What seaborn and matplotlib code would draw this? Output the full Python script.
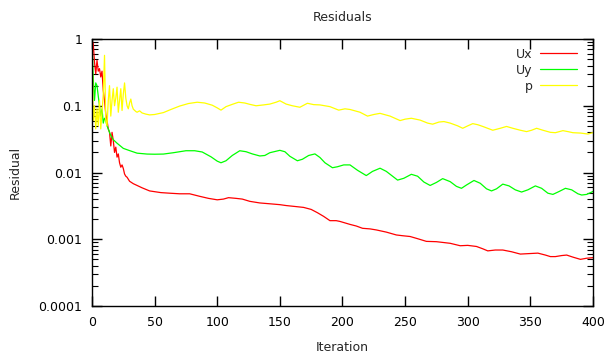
import numpy as np
import pandas as pd
import matplotlib
matplotlib.use("Agg")
import matplotlib.pyplot as plt
import matplotlib.ticker as mticker
import seaborn as sns

# residual history
ux_it = [0, 1, 2, 3, 4, 5, 6, 7, 8, 9, 10, 11, 12, 13, 14, 15, 16, 17, 18, 19, 20, 21, 22, 23, 24, 25, 26, 27, 28,
         30, 33, 36, 40, 46, 55, 62, 70, 78, 86, 93, 100, 105, 109, 115, 120, 126, 134, 142, 150, 155, 162, 169, 175,
         180, 185, 190, 195, 198, 206, 211, 216, 222, 227, 235, 243, 248, 254, 260, 267, 275, 286, 294, 300, 307, 312,
         316, 322, 328, 335, 342, 349, 356, 362, 366, 370, 375, 379, 384, 390, 395, 400]
ux_res = [0.95, 0.85, 0.45, 0.3, 0.48, 0.33, 0.36, 0.27, 0.33, 0.17, 0.12, 0.075, 0.06, 0.045, 0.04, 0.025, 0.04,
          0.03, 0.02, 0.024, 0.017, 0.019, 0.014, 0.012, 0.013, 0.0115, 0.0095, 0.0088, 0.0085,
          0.0074, 0.0068, 0.0064, 0.0059, 0.0053, 0.0050, 0.0049, 0.0048, 0.0048, 0.0044, 0.0041, 0.0039, 0.0040,
          0.0042, 0.0041, 0.0040, 0.0037, 0.0035, 0.0034, 0.0033, 0.0032, 0.0031, 0.0030, 0.0028,
          0.0025, 0.0022, 0.0019, 0.0019, 0.00185, 0.00167, 0.00158, 0.00146, 0.00143, 0.00138, 0.00128, 0.00116,
          0.00113, 0.0011, 0.00102, 0.00093, 0.00092, 0.00087, 0.0008, 0.00081, 0.00078, 0.00072,
          0.00067, 0.00069, 0.00069, 0.00065, 0.0006, 0.00061, 0.00062, 0.00058, 0.00055, 0.00055, 0.00057, 0.00058,
          0.00054, 0.0005, 0.00052, 0.00053]

uy_it = [0, 1, 2, 3, 4, 5, 6, 7, 8, 9, 10, 11, 12, 13, 14, 15, 17, 20, 25, 30, 36, 44, 50, 57, 65, 75, 82, 88, 95,
         100, 103, 107, 112, 118, 123, 128, 134, 138, 142, 150, 154, 158, 164, 168, 173, 178, 182, 186, 192, 196,
         201, 206, 212, 219, 224, 230, 235, 244, 249, 255, 260, 265, 270, 275, 280, 286, 291, 295, 299, 305, 310,
         315, 319, 323, 328, 333, 338, 343, 348, 354, 359, 364, 368, 373, 378, 383, 388, 391, 395, 400]
uy_res = [0.95, 0.25, 0.12, 0.22, 0.2, 0.14, 0.1, 0.07, 0.09, 0.055, 0.065, 0.06, 0.05, 0.045, 0.04, 0.036, 0.031,
          0.0275, 0.023, 0.0213, 0.0195, 0.0189, 0.0188, 0.0189, 0.0198, 0.0212, 0.0212, 0.0203, 0.0172,
          0.0148, 0.014, 0.015, 0.018, 0.0212, 0.0205, 0.019, 0.0177, 0.018, 0.0198, 0.0215, 0.0205, 0.0175, 0.015,
          0.0158, 0.018, 0.019, 0.0168, 0.014, 0.0118, 0.0122,
          0.013, 0.013, 0.0108, 0.009, 0.0104, 0.0116, 0.0104, 0.0077, 0.0082, 0.0094, 0.0088, 0.0072, 0.0064,
          0.0071, 0.0081, 0.0073, 0.0062, 0.0058, 0.0065, 0.0076, 0.0069,
          0.0057, 0.0053, 0.0057, 0.0067, 0.0063, 0.0055, 0.0051, 0.0055, 0.0063, 0.0058, 0.0049, 0.0047, 0.0052,
          0.0058, 0.0055, 0.0048, 0.0046, 0.0047, 0.0052]

p_it = [0, 1, 2, 3, 4, 5, 6, 7, 8, 9, 10, 11, 12, 13, 14, 15, 16, 17, 18, 19, 20, 21, 22, 23, 24, 25, 26, 27, 28,
        29, 30, 31, 32, 33, 35, 36, 38, 40, 43, 46, 50, 57, 63, 70, 77, 84, 90, 96, 100, 103, 107, 112, 117, 122,
        126, 131, 137, 142, 147, 150, 155, 160, 166, 172, 177, 182, 190, 197, 202, 206, 214, 220, 225, 230, 238,
        246, 250, 255, 262, 268, 272, 277, 281, 286, 292, 296, 300, 304, 308, 312, 320, 326, 331, 336, 342, 347,
        351, 355, 360, 366, 370, 376, 380, 384, 390, 396, 400]
p_res = [0.95, 0.06, 0.1, 0.045, 0.09, 0.05, 0.12, 0.045, 0.08, 0.15, 0.57, 0.06, 0.05, 0.12, 0.2, 0.07, 0.12, 0.18,
         0.1, 0.13, 0.19, 0.08, 0.12, 0.18, 0.085, 0.15, 0.22, 0.13, 0.1,
         0.09, 0.11, 0.126, 0.1, 0.089, 0.082, 0.08, 0.084, 0.078, 0.075, 0.073, 0.074, 0.079, 0.088, 0.099, 0.108,
         0.113, 0.11, 0.102, 0.093, 0.086, 0.097, 0.105, 0.113, 0.11,
         0.105, 0.1, 0.103, 0.106, 0.113, 0.119, 0.106, 0.1, 0.095, 0.109, 0.104, 0.103, 0.097, 0.086, 0.09, 0.088,
         0.08, 0.07, 0.074, 0.077, 0.07,
         0.06, 0.063, 0.065, 0.061, 0.055, 0.053, 0.057, 0.058, 0.055, 0.05, 0.046, 0.05, 0.054, 0.052, 0.049,
         0.043, 0.046, 0.049, 0.046, 0.043, 0.041,
         0.043, 0.046, 0.043, 0.04, 0.0395, 0.0424, 0.041, 0.0395, 0.039, 0.0377, 0.0397]

fields = ["Ux", "Uy", "p"]
colors = {"Ux": "#ff0000", "Uy": "#00ff00", "p": "#ffff00"}

df = pd.concat([
    pd.DataFrame({"Iteration": ux_it, "Residual": ux_res, "field": "Ux"}),
    pd.DataFrame({"Iteration": uy_it, "Residual": uy_res, "field": "Uy"}),
    pd.DataFrame({"Iteration": p_it, "Residual": p_res, "field": "p"}),
], ignore_index=True)

sns.set_style("ticks")
plt.rcParams.update({
    "font.family": ["DejaVu Sans"],
    "font.size": 9,
    "xtick.direction": "in",
    "ytick.direction": "in",
    "xtick.top": True,
    "ytick.right": True,
    "axes.edgecolor": "black",
    "axes.linewidth": 1.0,
})

fig = plt.figure(figsize=(6.06, 3.56), dpi=100)
ax = fig.add_axes([0.1518, 0.1404, 0.8267, 0.75])

sns.lineplot(data=df, x="Iteration", y="Residual", hue="field", hue_order=fields, palette=colors,
             estimator=None, sort=True, lw=0.9, ax=ax)

ax.set_yscale("log")
ax.set_xlim(0, 400)
ax.set_ylim(1e-4, 1)
ax.xaxis.set_major_locator(mticker.MultipleLocator(50))
ax.yaxis.set_major_locator(mticker.LogLocator(base=10, numticks=10))
ax.yaxis.set_minor_locator(mticker.LogLocator(base=10, subs=np.arange(2, 10), numticks=20))
ax.yaxis.set_major_formatter(mticker.FuncFormatter(lambda v, pos: "%g" % v))
ax.yaxis.set_minor_formatter(mticker.NullFormatter())
ax.tick_params(which="major", length=7, width=1, labelsize=9, color="black", labelcolor="black", pad=7)
ax.tick_params(which="minor", length=4, width=0.8, color="black")
for s in ax.spines.values():
    s.set_visible(True)

ax.set_title("Residuals", fontsize=9, pad=13)
ax.set_xlabel("Iteration", fontsize=9, labelpad=9)
ax.set_ylabel("Residual", fontsize=9, labelpad=12)

# gnuplot style key: label right-aligned, sample line after it
handles, labels = ax.get_legend_handles_labels()
ax.legend(handles, labels, loc="upper right", bbox_to_anchor=(0.994, 1.015), frameon=False,
          markerfirst=False, handlelength=3.0, handletextpad=0.6, labelspacing=0.25, fontsize=9,
          borderaxespad=0.6)

fig.savefig("out.png", dpi=100)
